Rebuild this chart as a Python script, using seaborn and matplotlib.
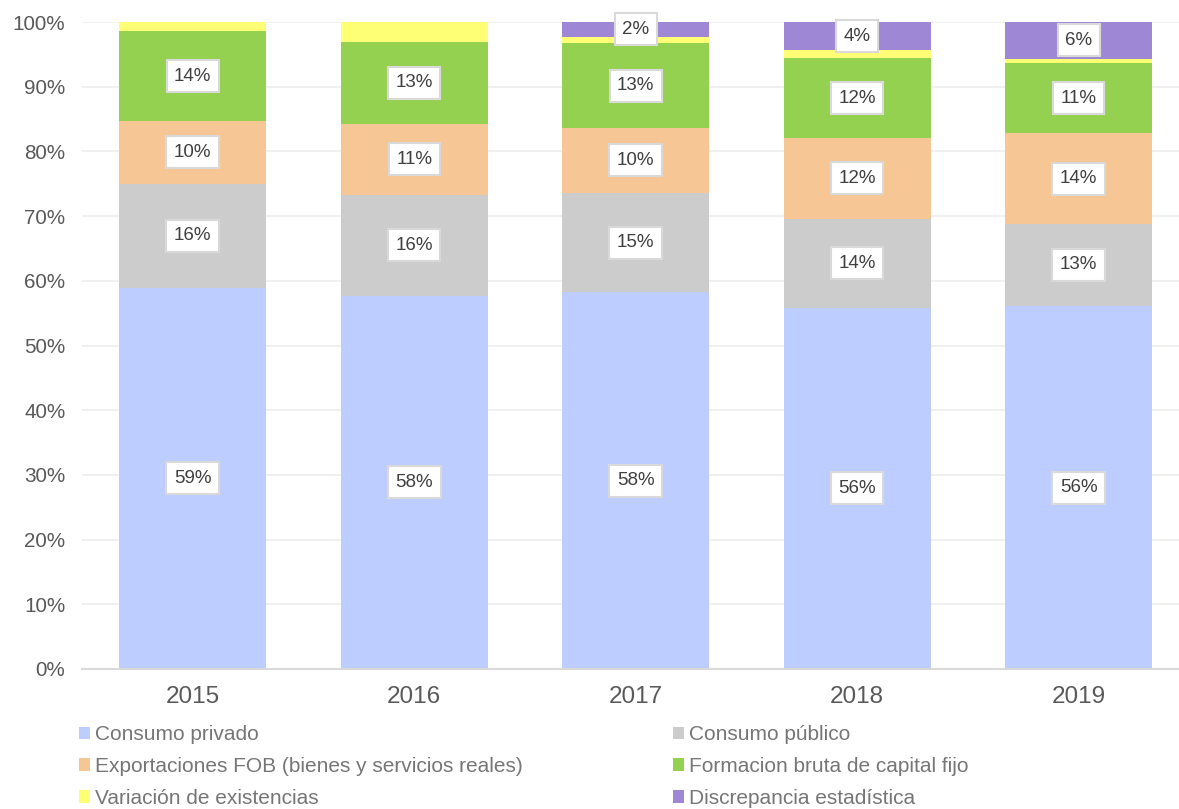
import seaborn as sns
import matplotlib.pyplot as plt
import pandas as pd
from matplotlib.patches import Patch
from matplotlib.ticker import FuncFormatter

# datos (% del total por año)
years = ["2015", "2016", "2017", "2018", "2019"]
series = [
    "Consumo privado",
    "Consumo público",
    "Exportaciones FOB (bienes y servicios reales)",
    "Formacion bruta de capital fijo",
    "Variación de existencias",
    "Discrepancia estadística",
]
consumo_privado = [58.9, 57.7, 58.2, 55.8, 56.1]
consumo_publico = [16.1, 15.6, 15.4, 13.8, 12.7]
exportaciones = [9.7, 11.0, 10.0, 12.45, 14.0]
formacion = [13.85, 12.6, 13.1, 12.35, 10.9]
variacion = [1.45, 3.1, 1.0, 1.2, 0.6]
discrepancia = [0.0, 0.0, 2.3, 4.4, 5.7]
colores = ["#BDCDFF", "#CCCCCC", "#F6C795", "#95D150", "#FFFF75", "#9E88D6"]

valores = [consumo_privado, consumo_publico, exportaciones, formacion, variacion, discrepancia]

filas = []
for s, vals in zip(series, valores):
    for y, v in zip(years, vals):
        filas.append({"year": y, "serie": s, "valor": v})
df = pd.DataFrame(filas)
df["top"] = df.groupby("year")["valor"].cumsum()
df["bottom"] = df["top"] - df["valor"]

sns.set_theme(style="white")
plt.rcParams["font.family"] = ["Liberation Sans", "DejaVu Sans"]

fig = plt.figure(figsize=(11.79, 8.09), dpi=100)
ax = fig.add_axes([82 / 1179, 140 / 809, 1097 / 1179, 647 / 809])

# barras apiladas: se dibuja el acumulado de arriba hacia abajo
for s, c in reversed(list(zip(series, colores))):
    sub = df[df["serie"] == s]
    sns.barplot(data=sub, x="year", y="top", color=c, saturation=1,
                width=0.664, ax=ax, order=years, linewidth=0)

# etiquetas de datos
for s in series:
    if s == "Variación de existencias":
        continue
    sub = df[df["serie"] == s]
    for i, row in enumerate(sub.itertuples()):
        if row.valor < 1:
            continue
        ax.text(i, (row.top + row.bottom) / 2, f"{round(row.valor):.0f}%",
                ha="center", va="center", fontsize=13.5, color="#404040",
                bbox=dict(boxstyle="square,pad=0.4", fc="white", ec="#D9D9D9", lw=1.5))

ax.set_xlim(-0.5, 4.453)
ax.set_ylim(0, 100)
ax.set_yticks(range(0, 101, 10))
ax.yaxis.set_major_formatter(FuncFormatter(lambda v, p: f"{v:.0f}%"))
ax.set_xlabel("")
ax.set_ylabel("")
ax.yaxis.grid(True, color="#EDEDED", lw=1.2)
ax.set_axisbelow(True)
for sp in ["top", "right", "left"]:
    ax.spines[sp].set_visible(False)
ax.spines["bottom"].set_color("#D9D9D9")
ax.spines["bottom"].set_linewidth(1.5)
ax.tick_params(axis="y", length=0, pad=12, labelsize=14.9, labelcolor="#595959")
ax.tick_params(axis="x", length=0, pad=12, labelsize=17.5, labelcolor="#595959")

# leyenda en dos columnas, orden por filas
orden = [0, 2, 4, 1, 3, 5]
handles = [Patch(facecolor=colores[k], edgecolor="none") for k in orden]
labels = [series[k] for k in orden]
fig.legend(handles, labels, ncol=2, loc="upper left",
           bbox_to_anchor=(79 / 1179, 0.1036), frameon=False,
           fontsize=15, labelcolor="#767676", borderpad=0, borderaxespad=0,
           handlelength=0.55, handleheight=0.55, handletextpad=0.2,
           labelspacing=0.62, columnspacing=7.23)

fig.savefig("out.png", dpi=100)
